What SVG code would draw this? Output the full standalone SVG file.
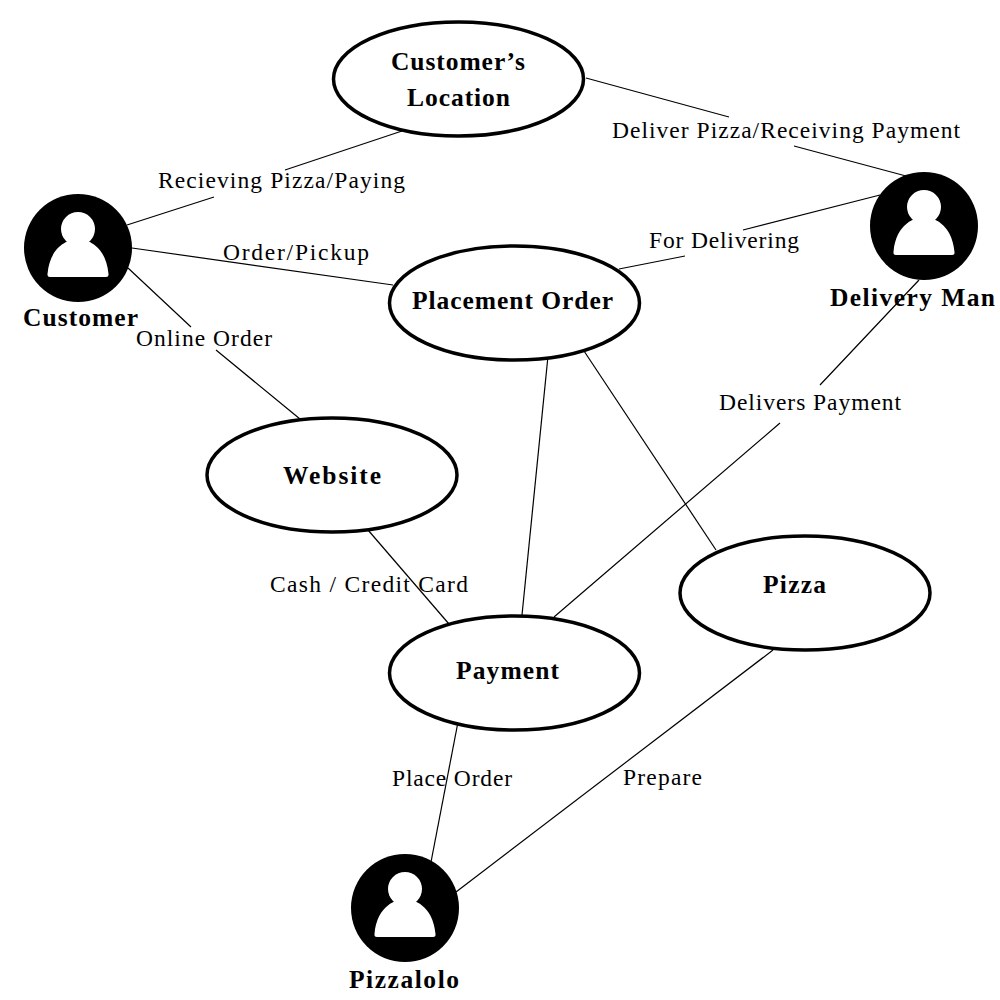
<svg xmlns="http://www.w3.org/2000/svg" width="1000" height="1000" viewBox="0 0 1000 1000">
<style>
.bg{fill:#fff}
.e{fill:#fff;stroke:#000;stroke-width:3.5}
.c{stroke:#000;stroke-width:1.2;fill:none}
text{font-family:"Liberation Serif","Times New Roman",serif;fill:#000}
.n{font-size:25.500px;font-weight:bold;text-anchor:middle}
.l{font-size:23.500px;text-anchor:middle}
</style>
<defs>
<g id="actor">
<circle r="54" fill="#000"/>
<circle cy="-19" r="17" fill="#fff"/>
<path d="M-30.500 26Q-31 29-28 29H28Q31 29 30.500 26C28-3 8-9 0-9S-28-3-30.500 26Z" fill="#fff"/>
</g>
</defs>
<rect class="bg" width="1000" height="1000"/>
<g id="connectors">
<path class="c" d="M402 131L285 170M214 197L127 225"/>
<path class="c" d="M586 78L729 117M794 146L906 176"/>
<path class="c" d="M132 248L393 285"/>
<path class="c" d="M619 269L685 256M743 230L880 195"/>
<path class="c" d="M128 268L191 327M216 350L300 419"/>
<path class="c" d="M368 530L449 624"/>
<path class="c" d="M548 356L522 615"/>
<path class="c" d="M584 351L716 550"/>
<path class="c" d="M919 280L820 385M780 423L554 617"/>
<path class="c" d="M458 722L431 862"/>
<path class="c" d="M773 650L456 892"/>
</g>
<g id="location"><ellipse class="e" cx="458.500" cy="79" rx="125" ry="57"/><text class="n" x="458" y="70" textLength="134">Customer’s</text><text class="n" x="458.500" y="106" textLength="103">Location</text></g>
<g id="placement"><ellipse class="e" cx="514.500" cy="303" rx="125" ry="57"/><text class="n" x="512.500" y="309" textLength="201">Placement Order</text></g>
<g id="website"><ellipse class="e" cx="332" cy="475" rx="125" ry="57"/><text class="n" x="332" y="484" textLength="98">Website</text></g>
<g id="pizza"><ellipse class="e" cx="805" cy="593" rx="125" ry="57"/><text class="n" x="794.500" y="593" textLength="63">Pizza</text></g>
<g id="payment"><ellipse class="e" cx="514.500" cy="673" rx="125" ry="57"/><text class="n" x="507.500" y="679" textLength="103">Payment</text></g>
<g id="customer"><use href="#actor" x="78" y="248"/><text class="n" x="80.500" y="326" textLength="115">Customer</text></g>
<g id="delivery"><use href="#actor" x="924" y="226"/><text class="n" x="912.500" y="306" textLength="165">Delivery Man</text></g>
<g id="pizzalolo"><use href="#actor" x="405" y="908"/><text class="n" x="404" y="988" textLength="110">Pizzalolo</text></g>
<g id="labels">
<text class="l" x="281.500" y="188" textLength="247">Recieving Pizza/Paying</text>
<text class="l" x="786" y="138" textLength="348">Deliver Pizza/Receiving Payment</text>
<text class="l" x="296" y="260" textLength="146">Order/Pickup</text>
<text class="l" x="724" y="248" textLength="150">For Delivering</text>
<text class="l" x="204" y="346" textLength="136">Online Order</text>
<text class="l" x="810" y="410" textLength="182">Delivers Payment</text>
<text class="l" x="369" y="592" textLength="198">Cash / Credit Card</text>
<text class="l" x="452" y="786" textLength="120">Place Order</text>
<text class="l" x="662.500" y="785" textLength="79">Prepare</text>
</g>
</svg>
